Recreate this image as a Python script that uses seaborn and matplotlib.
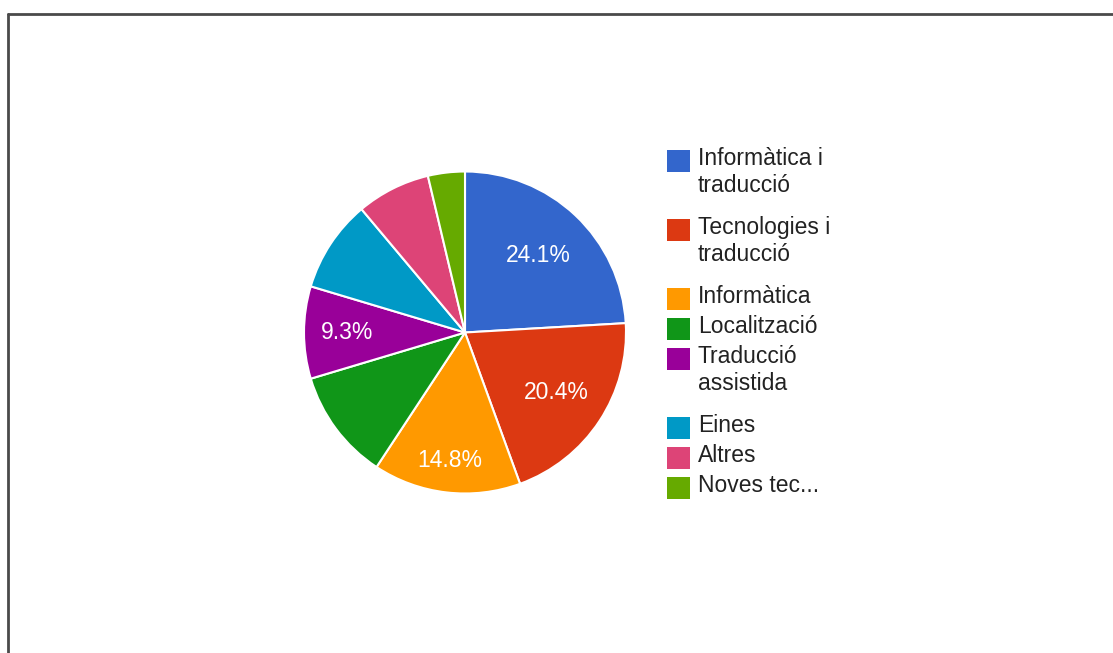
import numpy as np
import matplotlib
matplotlib.use("Agg")
import matplotlib.pyplot as plt
from matplotlib.patches import Rectangle
from matplotlib.lines import Line2D
import seaborn as sns

# ---- data ----
categories = ["Informàtica i\ntraducció", "Tecnologies i\ntraducció", "Informàtica",
              "Localització", "Traducció\nassistida", "Eines", "Altres", "Noves tec..."]
counts = [13, 11, 8, 6, 5, 5, 4, 2]
slice_labels = ["24.1%", "20.4%", "14.8%", "", "9.3%", "", "", ""]
colors = ["#3366CC", "#DC3912", "#FF9900", "#109618", "#990099", "#0099C6", "#DD4477", "#66AA00"]

sns.set_theme(style="white")
plt.rcParams['font.family'] = ['Liberation Sans', 'DejaVu Sans']

W, H = 1113, 653
fig = plt.figure(figsize=(W / 100, H / 100), dpi=100)
fig.patch.set_facecolor("white")

# pie axes
cx, cy, r = 465, 332.5, 161
ax = fig.add_axes([(cx - r) / W, (H - cy - r) / H, 2 * r / W, 2 * r / H])
wedges, _ = ax.pie(counts, colors=colors, startangle=90, counterclock=False,
                   wedgeprops=dict(edgecolor="white", linewidth=1.5))
ax.set_xlim(-1, 1)
ax.set_ylim(-1, 1)
ax.set_aspect("equal")
ax.axis("off")

label_dist = [0.66, 0.68, 0.80, 0.7, 0.73, 0.7, 0.7, 0.7]
for w, lab, d in zip(wedges, slice_labels, label_dist):
    if not lab:
        continue
    ang = np.deg2rad((w.theta1 + w.theta2) / 2)
    ax.text(d * np.cos(ang), d * np.sin(ang), lab, ha="center", va="center",
            color="white", fontsize=16.5)

# legend (drawn manually, Google-chart style)
y = 161
for cat, col in zip(categories, colors):
    nlines = cat.count("\n") + 1
    fig.add_artist(Rectangle((667 / W, (H - y - 11) / H), 23 / W, 22 / H,
                             transform=fig.transFigure, facecolor=col, edgecolor="none"))
    fig.text(698 / W, (H - y + 14) / H, cat, ha="left", va="top", fontsize=16.5,
             color="#222222", linespacing=1.22)
    y += 30 if nlines == 1 else 69

# frame border (top and left edges)
fig.add_artist(Line2D([8 / W, 1.0], [(H - 14) / H] * 2, color="#4a4a4a", linewidth=2,
                      transform=fig.transFigure))
fig.add_artist(Line2D([8 / W] * 2, [0, (H - 14) / H], color="#4a4a4a", linewidth=2,
                      transform=fig.transFigure))

fig.savefig("out.png", dpi=100, facecolor="white")
